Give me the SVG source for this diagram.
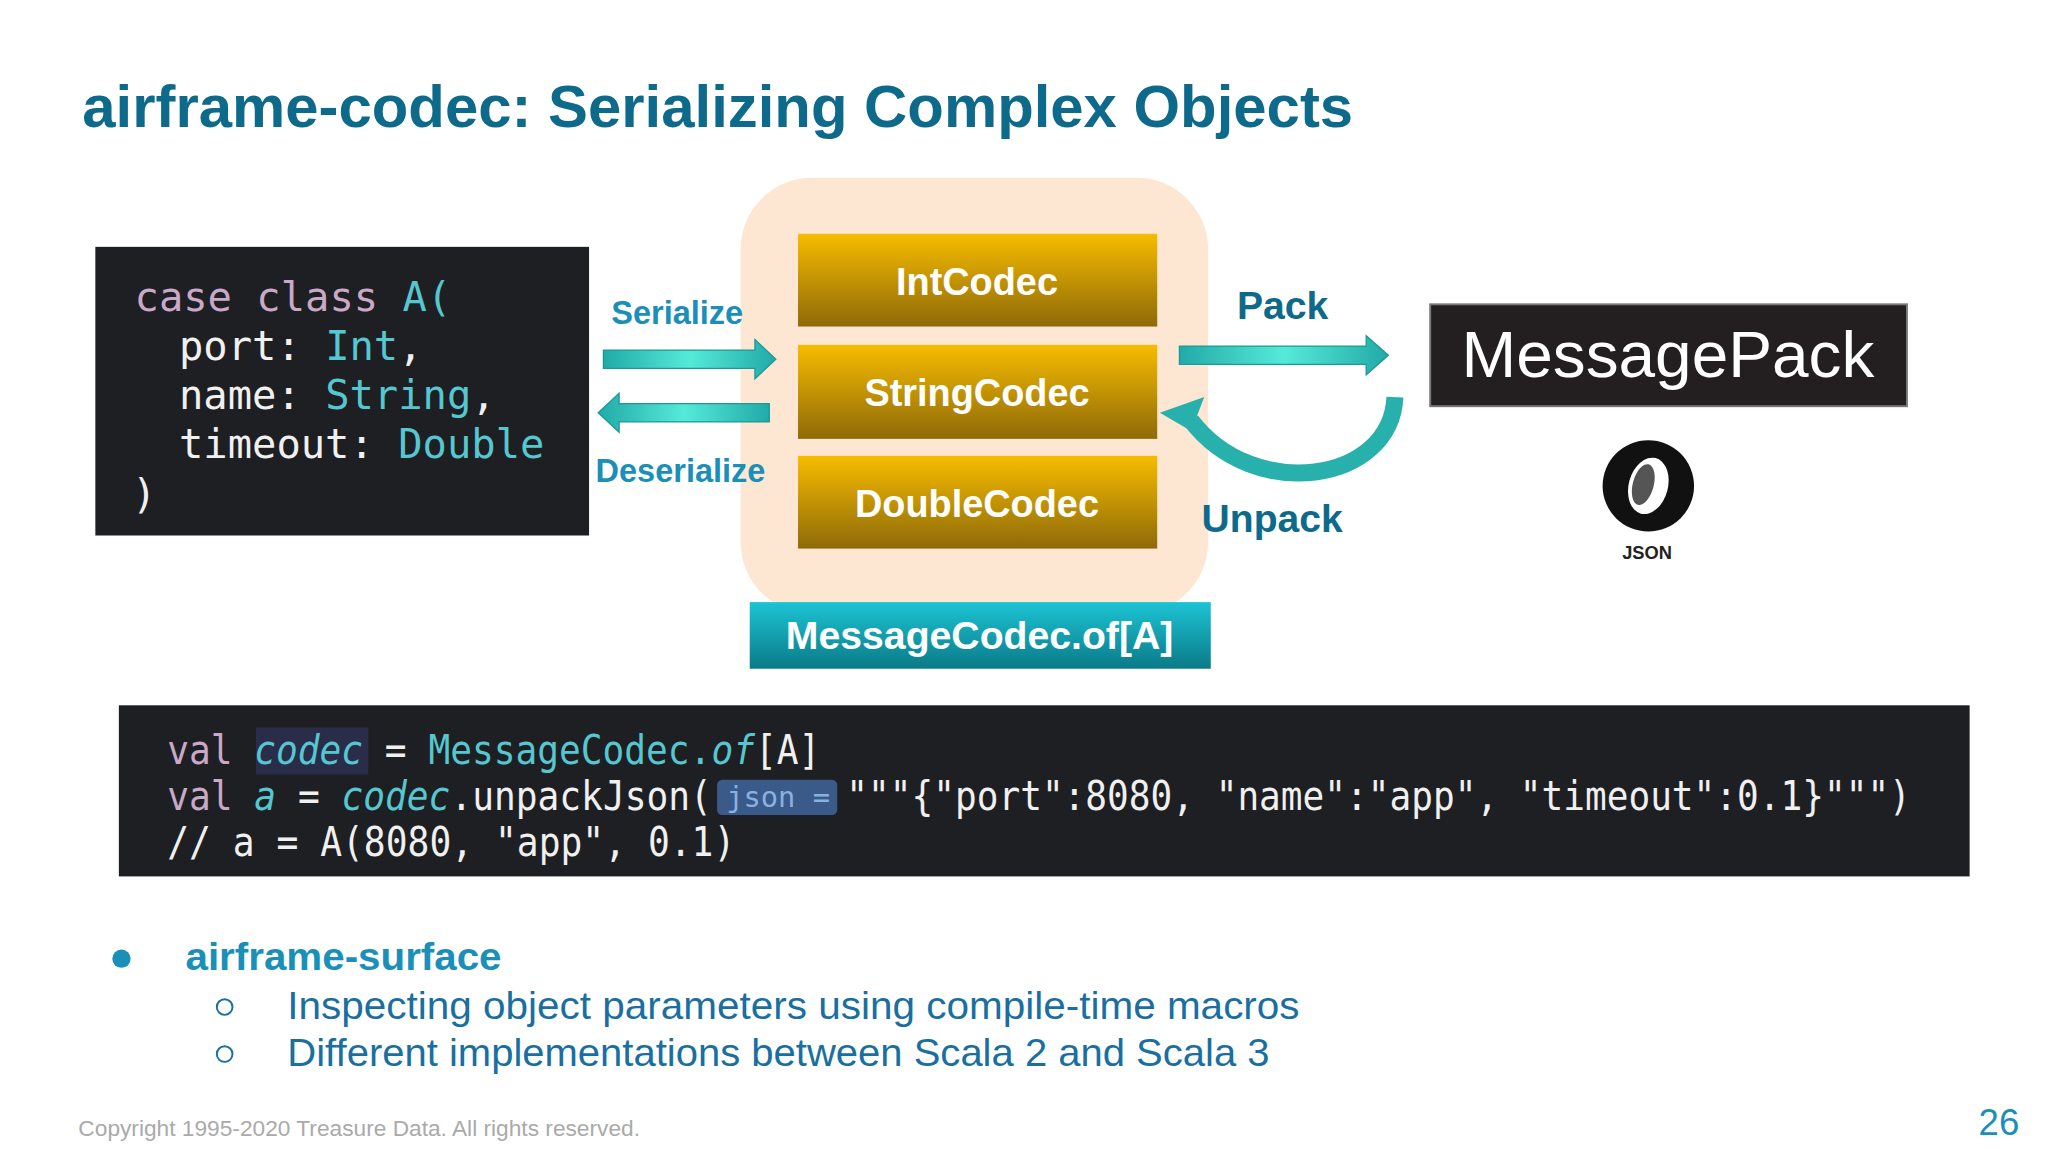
<svg xmlns="http://www.w3.org/2000/svg" width="2048" height="1152" viewBox="0 0 2048 1152">
<style>
.mono{font-family:"DejaVu Sans Mono",monospace;font-size:31px}
.w{fill:#f0f0f0}.t{fill:#56c6d0}.p{fill:#c9a8c8}
.cb{font-family:"Liberation Sans",Arial,sans-serif;font-weight:bold;fill:#fff;font-size:29px;text-anchor:middle}
.lbl{font-family:"Liberation Sans",Arial,sans-serif;font-weight:bold;fill:#1a8fb8;font-size:25px}
.body{font-family:"Liberation Sans",Arial,sans-serif;fill:#1a6fa0;font-size:30px}
</style>
<defs>
<linearGradient id="gold" x1="0" y1="0" x2="0" y2="1"><stop offset="0" stop-color="#f7bc00"/><stop offset="1" stop-color="#8e6a08"/></linearGradient>
<linearGradient id="teal" x1="0" y1="0" x2="0" y2="1"><stop offset="0" stop-color="#1cc4d4"/><stop offset="1" stop-color="#0a7a88"/></linearGradient>
<linearGradient id="arr" x1="0" y1="0" x2="1" y2="0"><stop offset="0" stop-color="#22aaa8"/><stop offset="0.5" stop-color="#55ead8"/><stop offset="1" stop-color="#22aaa8"/></linearGradient>
</defs>
<rect width="2048" height="1152" fill="#fff"/>
<g transform="scale(1.30612)">
<text x="63" y="97" textLength="973" lengthAdjust="spacingAndGlyphs" font-family="Liberation Sans,Arial,sans-serif" font-weight="bold" font-size="45" fill="#0d6a8a">airframe-codec: Serializing Complex Objects</text>

<g id="caseclass">
<rect x="73" y="189" width="378" height="221" fill="#1e1f22"/>
<text class="mono" x="103" y="238"><tspan class="p">case class </tspan><tspan class="t">A(</tspan></text>
<text class="mono" x="137" y="276"><tspan class="w">port: </tspan><tspan class="t">Int</tspan><tspan class="w">,</tspan></text>
<text class="mono" x="137" y="313"><tspan class="w">name: </tspan><tspan class="t">String</tspan><tspan class="w">,</tspan></text>
<text class="mono" x="137" y="351"><tspan class="w">timeout: </tspan><tspan class="t">Double</tspan></text>
<text class="mono w" x="101" y="389">)</text>
</g>

<g id="codecgroup">
<rect x="567" y="136" width="358" height="334" rx="55" fill="#fde6d2"/>
</g>
<g id="intcodec"><rect x="611" y="179" width="275" height="71" fill="url(#gold)"/><text class="cb" x="748" y="226">IntCodec</text></g>
<g id="stringcodec"><rect x="611" y="264" width="275" height="72" fill="url(#gold)"/><text class="cb" x="748" y="311">StringCodec</text></g>
<g id="doublecodec"><rect x="611" y="349" width="275" height="71" fill="url(#gold)"/><text class="cb" x="748" y="396">DoubleCodec</text></g>
<g id="messagecodec"><rect x="574" y="461" width="353" height="51" fill="url(#teal)"/><text class="cb" x="750" y="497" font-size="30" style="font-size:30px">MessageCodec.of[A]</text></g>

<g id="messagepack"><rect x="1095" y="233" width="365" height="78" fill="#231f20" stroke="#777" stroke-width="1.5"/>
<text x="1277" y="289" text-anchor="middle" textLength="316" lengthAdjust="spacingAndGlyphs" font-family="Liberation Sans,Arial,sans-serif" font-size="50" fill="#fff">MessagePack</text></g>
<g id="json">
<circle cx="1262" cy="372" r="35" fill="#111"/>
<ellipse cx="1262" cy="372" rx="15" ry="22" fill="#fff" transform="rotate(15 1262 372)"/>
<ellipse cx="1258" cy="372" rx="8" ry="16" fill="#555" transform="rotate(15 1262 372)"/>
<text x="1261" y="428" text-anchor="middle" font-family="Liberation Sans,Arial,sans-serif" font-weight="bold" font-size="14" fill="#222">JSON</text>
</g>

<g id="connectors">
<path d="M462 268 H578 V260 L594 275 L578 290 V282 H462 Z" fill="url(#arr)" stroke="#1a9a98" stroke-width="1"/>
<path d="M589 309 H474 V301 L458 316 L474 331 V323 H589 Z" fill="url(#arr)" stroke="#1a9a98" stroke-width="1"/>
<path d="M903 265 H1046 V257 L1063 272 L1046 287 V279 H903 Z" fill="url(#arr)" stroke="#1a9a98" stroke-width="1"/>
<path d="M1068 304 C1065 370 960 385 912 322" fill="none" stroke="#28b0ac" stroke-width="13"/>
<path d="M888 316 L922 304 L912 330 Z" fill="#28b0ac"/>
<text class="lbl" x="468" y="248" textLength="101" lengthAdjust="spacingAndGlyphs">Serialize</text>
<text class="lbl" x="456" y="369" textLength="130" lengthAdjust="spacingAndGlyphs">Deserialize</text>
<text class="lbl" x="947" y="244" textLength="70" lengthAdjust="spacingAndGlyphs" style="fill:#0d6a8a;font-size:29px">Pack</text>
<text class="lbl" x="920" y="407" textLength="108" lengthAdjust="spacingAndGlyphs" style="fill:#0d6a8a;font-size:29px">Unpack</text>
</g>

<g id="code2">
<rect x="91" y="540" width="1417" height="131" fill="#1e1f22"/>
<rect x="196" y="557" width="86" height="36" fill="#2a2d4a"/>
<text class="mono" x="128" y="585" textLength="500" lengthAdjust="spacingAndGlyphs"><tspan class="p">val </tspan><tspan class="t" font-style="italic">codec</tspan><tspan class="w"> = </tspan><tspan class="t">MessageCodec.</tspan><tspan class="t" font-style="italic">of</tspan><tspan class="w">[A]</tspan></text>
<rect x="549" y="597" width="92" height="27" rx="4" fill="#3a5a8a"/>
<text class="mono" x="128" y="620" textLength="417" lengthAdjust="spacingAndGlyphs"><tspan class="p">val </tspan><tspan class="t" font-style="italic">a</tspan><tspan class="w"> = </tspan><tspan class="t" font-style="italic">codec</tspan><tspan class="w">.unpackJson(</tspan></text>
<text class="mono" x="556" y="618" font-size="22" style="font-size:22px" fill="#8ab0e0">json =</text>
<text class="mono w" x="648" y="620" textLength="815" lengthAdjust="spacingAndGlyphs">"""{"port":8080, "name":"app", "timeout":0.1}""")</text>
<text class="mono w" x="128" y="655" textLength="435" lengthAdjust="spacingAndGlyphs">// a = A(8080, "app", 0.1)</text>
</g>

<g id="bullets">
<circle cx="93" cy="734" r="7" fill="#1a8fb8"/>
<text class="body" x="142" y="743" font-weight="bold" textLength="242" lengthAdjust="spacingAndGlyphs" style="fill:#1a8fb8;font-size:29px">airframe-surface</text>
<circle cx="172" cy="771" r="6" fill="none" stroke="#1a6fa0" stroke-width="1.5"/>
<text class="body" x="220" y="780" textLength="775" lengthAdjust="spacingAndGlyphs">Inspecting object parameters using compile-time macros</text>
<circle cx="172" cy="807" r="6" fill="none" stroke="#1a6fa0" stroke-width="1.5"/>
<text class="body" x="220" y="816" textLength="752" lengthAdjust="spacingAndGlyphs">Different implementations between Scala 2 and Scala 3</text>
</g>
<text x="60" y="870" textLength="430" lengthAdjust="spacingAndGlyphs" font-family="Liberation Sans,Arial,sans-serif" font-size="17" fill="#aaa">Copyright 1995-2020 Treasure Data. All rights reserved.</text>
<text x="1546" y="869" text-anchor="end" font-family="Liberation Sans,Arial,sans-serif" font-size="28" fill="#1a8fb8">26</text>
</g>
</svg>
